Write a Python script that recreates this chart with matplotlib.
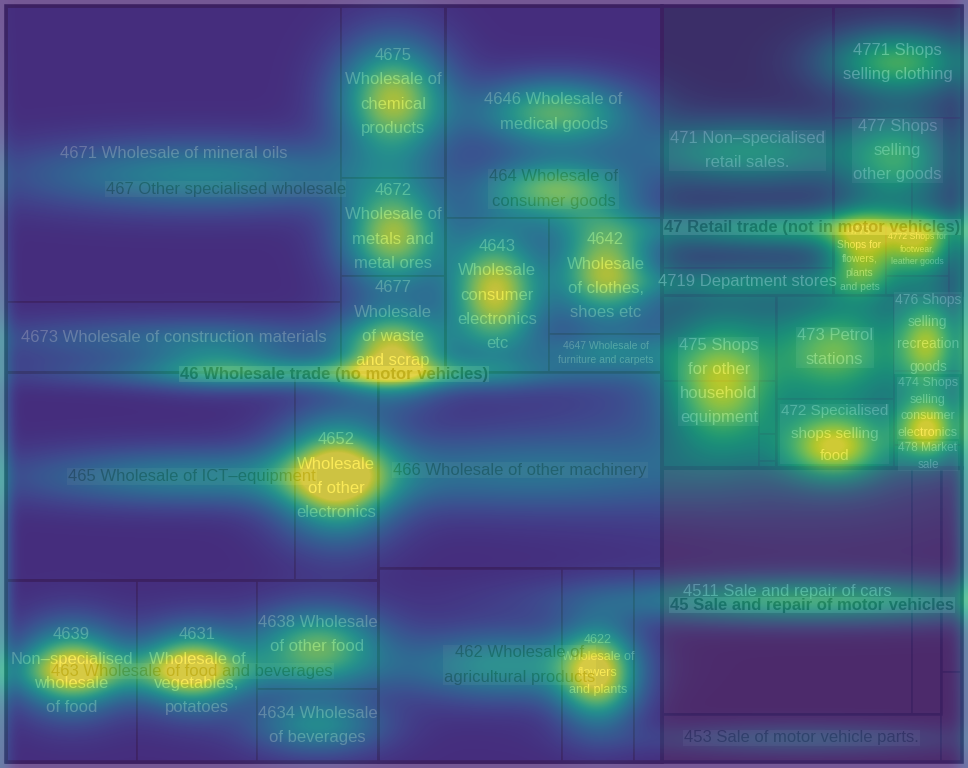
import numpy as np
import matplotlib.pyplot as plt
from matplotlib.patches import Rectangle

plt.rcParams['font.family'] = ['Liberation Sans', 'DejaVu Sans']

# ---------------------------------------------------------
# tile sizes (relative area)
# ---------------------------------------------------------
VALUES = {
    '4671': 99.2, '4673': 23.5, '4675': 17.9, '4672': 10.2, '4677': 10.0,
    '4646': 46.0, '4643': 16.0, '4642': 13.1, '4647': 4.3,
    '4651': 60.1, '4652': 17.3,
    '466': 55.7,
    '4639': 23.8, '4631': 21.8, '4638': 13.2, '4634': 8.8,
    '4621': 35.7, '4622': 14.0, '4623': 5.4,
    '4711': 44.8, '4719': 4.6,
    '4771': 14.5, '4778': 8.2, '4779': 5.2, '4776': 3.9, '4772': 3.4,
    '4774': 1.2, '4775': 0.95,
    '4751': 9.8, '4752': 8.4, '4753': 0.90, '4754': 0.46, '4759': 0.12,
    '473': 12.3, '472': 8.1, '476': 5.2, '474': 5.0, '478': 1.6,
    '4511': 61.5, '4519': 7.1, '453': 13.4, '454': 4.3, '452': 1.9,
}

# nesting: (name, split direction, children)
TREE = ('root', 'x', [
    ('46', 'y', [
        ('46a', 'x', [
            ('467', 'x', [('467a', 'y', ['4671', '4673']),
                          ('467b', 'y', ['4675', '4672', '4677'])]),
            ('464', 'y', ['4646',
                          ('464a', 'x', ['4643', ('464b', 'y', ['4642', '4647'])])])]),
        ('46b', 'x', [
            ('46c', 'y', [('465', 'x', ['4651', '4652']),
                          ('463', 'x', ['4639', '4631', ('463a', 'y', ['4638', '4634'])])]),
            ('46d', 'y', ['466', ('462', 'x', ['4621', '4622', '4623'])])])]),
    ('r', 'y', [
        ('47', 'y', [
            ('47a', 'x', [
                ('471', 'y', ['4711', '4719']),
                ('477', 'y', ['4771', ('477a', 'x', ['4778', '4779']),
                              ('477b', 'x', ['4776', ('477c', 'y', ['4772', '4774']), '4775'])])]),
            ('47b', 'x', [
                ('475', 'y', ['4751', ('475a', 'x', ['4752', ('475b', 'y', ['4753', '4754', '4759'])])]),
                ('47c', 'y', ['473', '472']),
                ('47d', 'y', ['476', '474', '478'])])]),
        ('45', 'x', [
            ('45a', 'y', [('451', 'x', ['4511', '4519']), '453']),
            ('45b', 'y', ['454', '452'])])])])

LABELS = {
    '46': '46 Wholesale trade (no motor vehicles)',
    '47': '47 Retail trade (not in motor vehicles)',
    '45': '45 Sale and repair of motor vehicles',
    '467': '467 Other specialised wholesale',
    '464': '464 Wholesale of\nconsumer goods',
    '465': '465 Wholesale of ICT–equipment',
    '466': '466 Wholesale of other machinery',
    '463': '463 Wholesale of food and beverages',
    '462': '462 Wholesale of\nagricultural products',
    '471': '471 Non–specialised\nretail sales.',
    '477': '477 Shops\nselling\nother goods',
    '475': '475 Shops\nfor other\nhousehold\nequipment',
    '473': '473 Petrol\nstations',
    '472': '472 Specialised\nshops selling\nfood',
    '476': '476 Shops\nselling\nrecreation\ngoods',
    '474': '474 Shops\nselling\nconsumer\nelectronics',
    '478': '478 Market\nsale',
    '453': '453 Sale of motor vehicle parts.',
    '4671': '4671 Wholesale of mineral oils',
    '4673': '4673 Wholesale of construction materials',
    '4675': '4675\nWholesale of\nchemical\nproducts',
    '4672': '4672\nWholesale of\nmetals and\nmetal ores',
    '4677': '4677\nWholesale\nof waste\nand scrap',
    '4646': '4646 Wholesale of\nmedical goods',
    '4643': '4643\nWholesale\nconsumer\nelectronics\netc',
    '4642': '4642\nWholesale\nof clothes,\nshoes etc',
    '4647': '4647 Wholesale of\nfurniture and carpets',
    '4652': '4652\nWholesale\nof other\nelectronics',
    '4639': '4639\nNon–specialised\nwholesale\nof food',
    '4631': '4631\nWholesale of\nvegetables,\npotatoes',
    '4638': '4638 Wholesale\nof other food',
    '4634': '4634 Wholesale\nof beverages',
    '4622': '4622\nWholesale of\nflowers\nand plants',
    '4719': '4719 Department stores',
    '4771': '4771 Shops\nselling clothing',
    '4776': '4776\nShops for\nflowers,\nplants\nand pets',
    '4772': '4772 Shops for\nfootwear,\nleather goods',
    '4511': '4511 Sale and repair of cars',
}
SMALL_FONT = {'4647': 7.5, '4776': 7.5, '4772': 6.2, '4622': 9.0, '476': 10.0,
              '474': 9.0, '478': 8.5, '472': 11.0}

# bright spots of the attention overlay: x, y, spread x, spread y, strength
HOTSPOTS = [
    (393, 100, 38, 40, 0.82), (393, 235, 36, 36, 0.8), (393, 352, 36, 30, 0.8),
    (200, 175, 125, 24, 0.42), (180, 340, 140, 16, 0.25), (215, 362, 45, 18, 0.25),
    (333, 373, 165, 11, 0.45),
    (555, 113, 55, 24, 0.66), (555, 190, 50, 22, 0.66), (495, 292, 32, 42, 0.86),
    (605, 268, 34, 36, 0.76), (605, 352, 50, 12, 0.25),
    (812, 380, 150, 90, 0.28), (748, 152, 80, 22, 0.45), (898, 62, 50, 22, 0.62),
    (898, 160, 36, 36, 0.5), (812, 228, 130, 13, 0.45), (862, 255, 24, 28, 0.66),
    (920, 248, 24, 20, 0.62), (748, 283, 80, 11, 0.25), (720, 385, 36, 44, 0.6),
    (835, 350, 40, 30, 0.45), (835, 447, 36, 24, 0.7), (928, 343, 22, 32, 0.6),
    (928, 430, 22, 22, 0.72),
    (810, 600, 145, 16, 0.55), (800, 739, 110, 11, 0.18),
    (337, 477, 40, 40, 0.88), (190, 477, 120, 20, 0.38), (520, 472, 130, 27, 0.3),
    (72, 668, 36, 30, 0.8), (192, 668, 36, 28, 0.8), (150, 672, 140, 16, 0.26),
    (318, 645, 46, 26, 0.66), (318, 725, 46, 20, 0.45), (505, 665, 70, 25, 0.45),
    (598, 675, 28, 34, 0.82),
    (0, 520, 8, 220, 0.3), (968, 420, 8, 260, 0.3),
]

BASE_FILL = {'45': '#5c4858', '46': '#3c55a0', '47': '#14584a'}
DARK_GROUPS = ('46', '45')
LINESP = 1.76


def total(node):
    if isinstance(node, str):
        return VALUES[node]
    return sum(total(k) for k in node[2])


def layout(node, x, y, w, h, out):
    if isinstance(node, str):
        out[node] = (x, y, w, h)
        return
    name, d, kids = node
    out[name] = (x, y, w, h)
    sizes = [total(k) for k in kids]
    s = sum(sizes)
    pos = x if d == 'x' else y
    for k, t in zip(kids, sizes):
        if d == 'x':
            kw = w * t / s
            layout(k, pos, y, kw, h, out)
            pos += kw
        else:
            kh = h * t / s
            layout(k, x, pos, w, kh, out)
            pos += kh


rects = {}
layout(TREE, 6, 6, 956, 756, rects)
leaves = [k for k in VALUES]

fig = plt.figure(figsize=(9.68, 7.68), dpi=100)
ax = fig.add_axes([0, 0, 1, 1])
ax.set_xlim(0, 968)
ax.set_ylim(768, 0)
ax.axis('off')
fig.patch.set_facecolor('#ffffff')

# tiles
for code in leaves:
    x, y, w, h = rects[code]
    ax.add_patch(Rectangle((x, y), w, h, facecolor=BASE_FILL[code[:2]],
                           edgecolor='#202838', lw=1.2, zorder=1))
for code, (x, y, w, h) in rects.items():
    if code.isdigit() and len(code) <= 3 and code not in VALUES:
        lw = 2.6 if len(code) == 2 else 1.8
        ax.add_patch(Rectangle((x, y), w, h, fill=False, edgecolor='#1a2030',
                               lw=lw, zorder=2))

# labels: deepest first, top level last
for code in sorted(LABELS, key=lambda c: -len(c)):
    x, y, w, h = rects[code]
    cx, cy = x + w / 2, y + h / 2
    size = SMALL_FONT.get(code, 12)
    sp = LINESP if size > 9.5 else 1.5
    clip = Rectangle((x, y), w, h, transform=ax.transData)
    if len(code) == 2:
        ax.text(cx, cy - 10, LABELS[code], ha='center', va='center',
                fontsize=size, fontweight='bold', color='#0a0a0a', zorder=5,
                bbox=dict(boxstyle='square,pad=0.05', fc='#d0d0d0',
                          ec='none', alpha=0.55))
    elif len(code) == 3:
        dark = code[:2] in DARK_GROUPS
        t = ax.text(cx, cy, LABELS[code], ha='center', va='center',
                    fontsize=size, linespacing=sp,
                    color='#101010' if dark else '#f4f4f4', zorder=4,
                    bbox=dict(boxstyle='square,pad=0.05', fc='#b8b8b8',
                              ec='none', alpha=0.3))
        if code in VALUES:
            t.set_clip_path(clip)
    else:
        t = ax.text(cx, cy, LABELS[code], ha='center', va='center',
                    fontsize=size, linespacing=sp, color='#f4f4f4', zorder=3)
        t.set_clip_path(clip)

# attention overlay
yy, xx = np.mgrid[0:768, 0:968] + 0.5
heat = np.full(xx.shape, 0.09)
for hx, hy, sx, sy, amp in HOTSPOTS:
    heat += amp * np.exp(-0.5 * (((xx - hx) / sx) ** 2 + ((yy - hy) / sy) ** 2))
heat = np.clip(heat, 0, 1)
ax.imshow(heat, cmap='viridis', vmin=0, vmax=1, alpha=0.76,
          extent=[0, 968, 768, 0], interpolation='bilinear', zorder=10)

fig.savefig('out.png', dpi=100)
